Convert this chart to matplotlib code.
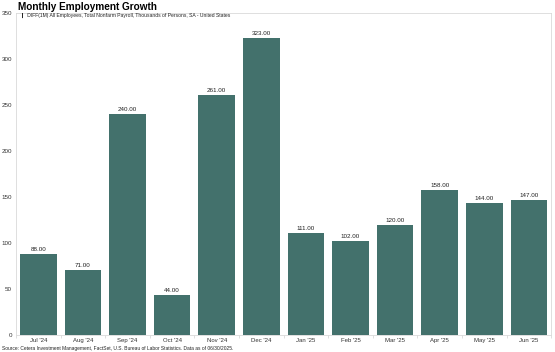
import matplotlib.pyplot as plt
import numpy as np

plt.rcParams['font.family'] = ['Liberation Sans', 'DejaVu Sans']

months = ["Jul '24", "Aug '24", "Sep '24", "Oct '24", "Nov '24", "Dec '24",
          "Jan '25", "Feb '25", "Mar '25", "Apr '25", "May '25", "Jun '25"]
jobs = [88, 71, 240, 44, 261, 323, 111, 102, 120, 158, 144, 147]
yticks = [0, 50, 100, 150, 200, 250, 300, 350]

bar_color = '#43716c'
grey = '#d9d9d9'

fig = plt.figure(figsize=(5.55, 3.52), dpi=100)
ax = fig.add_axes([0.029, 0.048, 0.964, 0.915])

x = np.arange(len(months))
bars = ax.bar(x, jobs, width=0.82, color=bar_color)
for b, v in zip(bars, jobs):
    ax.text(b.get_x() + b.get_width() / 2, v + 2, f"{v:.2f}",
            ha='center', va='bottom', fontsize=4.5, color='#222222')

ax.set_xlim(-0.5, len(months) - 0.5)
ax.set_ylim(0, 350)
ax.set_xticks(x)
ax.set_xticklabels(months)
ax.set_xticks(np.arange(len(months) + 1) - 0.5, minor=True)
ax.set_yticks(yticks)
ax.tick_params(axis='x', which='major', length=0, labelsize=4.3, pad=2, colors='#333333')
ax.tick_params(axis='x', which='minor', length=2, color=grey)
ax.tick_params(axis='y', length=0, labelsize=4.5, pad=3, colors='#333333')
for s in ax.spines.values():
    s.set_color(grey)
    s.set_linewidth(0.6)

fig.text(0.032, 0.981, "Monthly Employment Growth", fontsize=7.2,
         fontweight='heavy', ha='left', va='center')
fig.text(0.04, 0.955, "\u258e DIFF(1M) All Employees, Total Nonfarm Payroll, Thousands of Persons, SA - United States",
         fontsize=3.6, ha='left', va='center', color='#222222')
fig.text(0.003, 0.002, "Source: Cetera Investment Management, FactSet, U.S. Bureau of Labor Statistics. Data as of 06/30/2025.",
         fontsize=3.55, ha='left', va='bottom', color='#222222')

fig.savefig('out.png', dpi=100)
